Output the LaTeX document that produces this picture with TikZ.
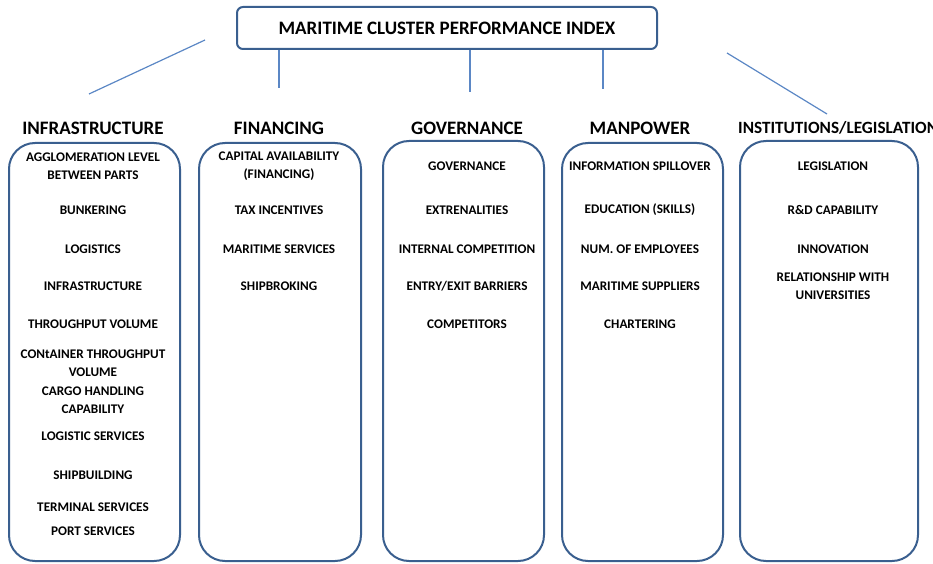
\documentclass[tikz,border=0pt]{standalone}
\usepackage{fontspec}
\setmainfont{Carlito}
\usetikzlibrary{positioning}

\definecolor{boxblue}{HTML}{3A5F8F}
\definecolor{linkblue}{HTML}{5B87C5}

\tikzset{
  indexbox/.style={draw=boxblue, line width=2pt, rounded corners=6pt, minimum width=420pt, minimum height=42pt, font=\fontsize{19}{22}\selectfont\bfseries},
  pillar/.style={font=\fontsize{19}{22}\selectfont\bfseries},
  group/.style={draw=boxblue, line width=2pt, rounded corners=26pt, anchor=north west},
  item/.style={font=\fontsize{13.2}{18}\selectfont\bfseries, align=center},
  link/.style={draw=linkblue, line width=1.2pt}
}

\begin{document}
\begin{tikzpicture}[x=1pt,y=-1pt]
  \useasboundingbox (0,0) rectangle (933,564);
  \clip (0,0) rectangle (933,564);

  % top index
  \node[indexbox] (mcpi) at (447,28) {MARITIME CLUSTER PERFORMANCE INDEX};

  % pillar titles
  \node[pillar] (infra) at (93,128) {INFRASTRUCTURE};
  \node[pillar] (fin) at (279,128) {FINANCING};
  \node[pillar] (gov) at (467,128) {GOVERNANCE};
  \node[pillar] (man) at (640,128) {MANPOWER};
  \node[pillar, font=\fontsize{17.2}{20}\selectfont\bfseries, anchor=west, inner sep=0pt] (inst) at (738,128) {INSTITUTIONS/LEGISLATION};

  % links from the index
  \coordinate (infra-a) at (205,40);
  \coordinate (infra-b) at (89,94);
  \coordinate (fin-b) at (279,88);
  \coordinate (gov-b) at (470,92);
  \coordinate (man-b) at (603,89);
  \coordinate (inst-a) at (727,53);
  \coordinate (inst-b) at (827,114);
  \draw[link] (infra-a) -- (infra-b);
  \draw[link] (mcpi.south -| fin-b) -- (fin-b);
  \draw[link] (mcpi.south -| gov-b) -- (gov-b);
  \draw[link] (mcpi.south -| man-b) -- (man-b);
  \draw[link] (inst-a) -- (inst-b);

  % pillar boxes
  \node[group, minimum width=171pt, minimum height=418pt] (infra-box) at (8,142) {};
  \node[group, minimum width=162pt, minimum height=418pt] (fin-box) at (198,142) {};
  \node[group, minimum width=161pt, minimum height=420pt] (gov-box) at (382,140) {};
  \node[group, minimum width=161pt, minimum height=418pt] (man-box) at (561,142) {};
  \node[group, minimum width=178pt, minimum height=420pt] (inst-box) at (739,140) {};

  % factors
  \foreach \y/\t [count=\i] in {166/{AGGLOMERATION LEVEL\\BETWEEN PARTS}, 210/BUNKERING, 249/LOGISTICS,
      286/INFRASTRUCTURE, 324/THROUGHPUT VOLUME, 363/{CONtAINER THROUGHPUT\\VOLUME},
      400/{CARGO HANDLING\\CAPABILITY}, 436/LOGISTIC SERVICES, 475/SHIPBUILDING,
      507/TERMINAL SERVICES, 531/PORT SERVICES}
    \node[item] (infra\i) at (93,\y) {\t};
  \foreach \y/\t [count=\i] in {166/{CAPITAL AVAILABILITY\\(FINANCING)}, 210/TAX INCENTIVES,
      249/MARITIME SERVICES, 286/SHIPBROKING}
    \node[item] (fin\i) at (279,\y) {\t};
  \foreach \y/\t [count=\i] in {166/GOVERNANCE, 210/EXTRENALITIES, 249/INTERNAL COMPETITION,
      286/{ENTRY/EXIT BARRIERS}, 324/COMPETITORS}
    \node[item] (gov\i) at (467,\y) {\t};
  \foreach \y/\t [count=\i] in {166/INFORMATION SPILLOVER, 210/EDUCATION (SKILLS),
      249/NUM. OF EMPLOYEES, 286/MARITIME SUPPLIERS, 324/CHARTERING}
    \node[item] (man\i) at (640,\y) {\t};
  \foreach \y/\t [count=\i] in {166/LEGISLATION, 210/R\&D CAPABILITY, 249/INNOVATION,
      286/{RELATIONSHIP WITH\\UNIVERSITIES}}
    \node[item] (inst\i) at (833,\y) {\t};
\end{tikzpicture}
\end{document}
